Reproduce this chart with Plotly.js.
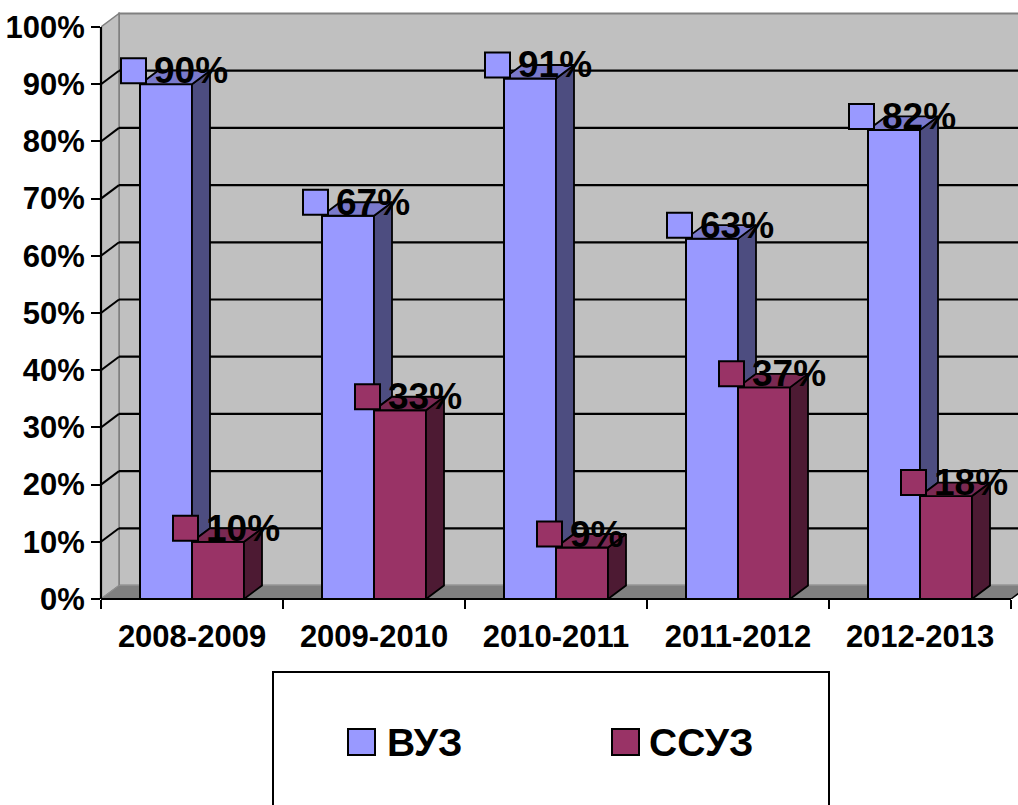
<!DOCTYPE html>
<html>
<head>
<meta charset="utf-8">
<script src="https://cdn.plot.ly/plotly-3.0.1.min.js"></script>
<style>html,body{margin:0;padding:0;background:#fff;}#chart{width:1018px;height:805px;}</style>
</head>
<body>
<div id="chart"></div>
<script>
// ---- data ----
const categories = ['2008-2009', '2009-2010', '2010-2011', '2011-2012', '2012-2013'];
const seriesNames = ['ВУЗ', 'ССУЗ'];
const vuz = [0.90, 0.67, 0.91, 0.63, 0.82];
const ssuz = [0.10, 0.33, 0.09, 0.37, 0.18];
const yTickVals = [0, 0.1, 0.2, 0.3, 0.4, 0.5, 0.6, 0.7, 0.8, 0.9, 1.0];

// ---- style / geometry ----
const FONT = 'Liberation Sans, Arial, sans-serif';
const colors = {
  vuz: {front: '#9999FF', top: '#7A7ACC', side: '#4D4D80'},
  ssuz: {front: '#993366', top: '#7A2952', side: '#4D1A33'}
};
const ML = 101, MT = 12, MB = 206, W = 1018, H = 805;
const plotW = W - ML, plotH = H - MT - MB;
const pxPerCat = 182, pxPerUnit = 572;
const xRange = [-0.5, -0.5 + plotW / pxPerCat];
const yRange = [0, plotH / pxPerUnit];
const dx = 18 / pxPerCat, dy = 13.5 / pxPerUnit;   // 3D depth offset in data units
const bw = 52 / pxPerCat;                           // bar width in data units
const nCat = categories.length;
const xs = categories.map((c, i) => i);

function px2paperX(p) { return (p - ML) / plotW; }
function px2paperY(p) { return (H - MB - p) / plotH; }

// ---- traces ----
const traces = [];
traces.push({type: 'bar', x: xs, y: vuz, width: bw, offset: -bw, name: seriesNames[0],
  marker: {color: colors.vuz.front, line: {color: '#000', width: 2}}, hoverinfo: 'skip', showlegend: false});
traces.push({type: 'bar', x: xs, y: ssuz, width: bw, offset: 0, name: seriesNames[1],
  marker: {color: colors.ssuz.front, line: {color: '#000', width: 2}}, hoverinfo: 'skip', showlegend: false});

function polyTrace(polys, color) {
  const X = [], Y = [];
  polys.forEach(p => { p.forEach(pt => { X.push(pt[0]); Y.push(pt[1]); }); X.push(p[0][0]); Y.push(p[0][1]); X.push(null); Y.push(null); });
  return {type: 'scatter', mode: 'lines', x: X, y: Y, fill: 'toself', fillcolor: color,
    line: {color: '#000', width: 1.8}, hoverinfo: 'skip', showlegend: false, connectgaps: false};
}
// VUZ side (visible part above SSUZ top), VUZ top
traces.push(polyTrace(xs.map(i => [[i, vuz[i]], [i + dx, vuz[i] + dy], [i + dx, ssuz[i] + dy], [i, ssuz[i]]]), colors.vuz.side));
traces.push(polyTrace(xs.map(i => [[i - bw, vuz[i]], [i, vuz[i]], [i + dx, vuz[i] + dy], [i - bw + dx, vuz[i] + dy]]), colors.vuz.top));
// SSUZ side, SSUZ top
traces.push(polyTrace(xs.map(i => [[i + bw, 0], [i + bw, ssuz[i]], [i + bw + dx, ssuz[i] + dy], [i + bw + dx, dy]]), colors.ssuz.side));
traces.push(polyTrace(xs.map(i => [[i, ssuz[i]], [i + bw, ssuz[i]], [i + bw + dx, ssuz[i] + dy], [i + dx, ssuz[i] + dy]]), colors.ssuz.top));

// ---- walls, floor, gridlines ----
const shapes = [];
// back wall
shapes.push({type: 'rect', xref: 'x', yref: 'y', x0: xRange[0] + dx, x1: xRange[1] + 1, y0: dy, y1: 1 + dy,
  fillcolor: '#C0C0C0', line: {color: '#808080', width: 2}, layer: 'below'});
// side wall
shapes.push({type: 'path', xref: 'x', yref: 'y', layer: 'below', fillcolor: '#C0C0C0', line: {color: '#808080', width: 1.5},
  path: `M${xRange[0]},0 L${xRange[0]},1 L${xRange[0] + dx},${1 + dy} L${xRange[0] + dx},${dy} Z`});
// floor
shapes.push({type: 'path', xref: 'x', yref: 'y', layer: 'below', fillcolor: '#808080', line: {color: '#909090', width: 1},
  path: `M${xRange[0]},0 L${nCat - 0.5},0 L${nCat - 0.5 + dx},${dy} L${xRange[0] + dx},${dy} Z`});
// floor right edge
shapes.push({type: 'line', xref: 'x', yref: 'y', layer: 'below', x0: nCat - 0.5, y0: 0, x1: nCat - 0.5 + dx, y1: dy,
  line: {color: '#000', width: 1.5}});
// gridlines on back and side wall
yTickVals.filter(v => v > 0 && v < 1).forEach(v => {
  shapes.push({type: 'line', xref: 'x', yref: 'y', layer: 'below', x0: xRange[0] + dx, x1: xRange[1] + 1, y0: v + dy, y1: v + dy,
    line: {color: '#000', width: 2.2}});
  shapes.push({type: 'line', xref: 'x', yref: 'y', layer: 'below', x0: xRange[0], x1: xRange[0] + dx, y0: v, y1: v + dy,
    line: {color: '#000', width: 2}});
});
// axis lines (paper refs)
shapes.push({type: 'line', xref: 'paper', yref: 'paper', x0: 0, x1: 0, y0: 0, y1: 1 / yRange[1], line: {color: '#000', width: 2.2}});
shapes.push({type: 'line', xref: 'paper', yref: 'paper', x0: 0, x1: (nCat - 0.5 - xRange[0]) / (xRange[1] - xRange[0]), y0: 0, y1: 0, line: {color: '#000', width: 2.2}});

// ---- data labels ----
const annotations = [];
function addLabel(xc, v, color) {
  shapes.push({type: 'rect', xref: 'x', yref: 'y', xsizemode: 'pixel', ysizemode: 'pixel',
    xanchor: xc, yanchor: v + dy, x0: -54, x1: -29, y0: -12.5, y1: 12.5,
    fillcolor: color, line: {color: '#000', width: 2}});
  annotations.push({xref: 'x', yref: 'y', x: xc, y: v + dy, xanchor: 'left', yanchor: 'middle', xshift: -23,
    text: Math.round(v * 100) + '%', showarrow: false, font: {family: FONT, size: 37, color: '#000', weight: 'bold'}});
}
xs.forEach(i => {
  addLabel(i - bw / 2 + dx / 2, vuz[i], colors.vuz.front);
  addLabel(i + bw / 2 + dx / 2, ssuz[i], colors.ssuz.front);
});

// ---- custom legend ----
shapes.push({type: 'rect', xref: 'paper', yref: 'paper', x0: px2paperX(273), x1: px2paperX(829), y0: px2paperY(830), y1: px2paperY(672),
  fillcolor: '#fff', line: {color: '#000', width: 2}});
const legendItems = [
  {name: seriesNames[0], color: colors.vuz.front, sq: 348, tx: 385},
  {name: seriesNames[1], color: colors.ssuz.front, sq: 612, tx: 647}
];
legendItems.forEach(it => {
  shapes.push({type: 'rect', xref: 'paper', yref: 'paper', x0: px2paperX(it.sq), x1: px2paperX(it.sq + 27),
    y0: px2paperY(755), y1: px2paperY(729), fillcolor: it.color, line: {color: '#000', width: 2}});
  annotations.push({xref: 'paper', yref: 'paper', x: px2paperX(it.tx), y: px2paperY(742), xanchor: 'left', yanchor: 'middle',
    text: it.name, showarrow: false, font: {family: FONT, size: 39, color: '#000', weight: 'bold'}});
});

const layout = {
  width: W, height: H,
  margin: {l: ML, r: 0, t: MT, b: MB, pad: 0},
  paper_bgcolor: '#fff', plot_bgcolor: '#fff',
  barmode: 'overlay',
  showlegend: false,
  xaxis: {range: xRange, tickmode: 'array', tickvals: xs, ticktext: categories,
    ticks: 'outside', ticklen: 8, tickcolor: 'rgba(0,0,0,0)', ticklabelstandoff: 2,
    showgrid: false, zeroline: false, showline: false, fixedrange: true,
    tickfont: {family: FONT, size: 31, color: '#000', weight: 'bold'},
    minor: {tickmode: 'array', tickvals: xs.concat([nCat]).map(i => i - 0.5), ticks: 'outside', ticklen: 9, tickwidth: 2, tickcolor: '#000', showgrid: false}},
  yaxis: {range: yRange, tickmode: 'array', tickvals: yTickVals, tickformat: '.0%',
    ticks: 'outside', ticklen: 9, tickwidth: 2, tickcolor: '#000', ticklabelstandoff: 0,
    showgrid: false, zeroline: false, showline: false, fixedrange: true,
    tickfont: {family: FONT, size: 31, color: '#000', weight: 'bold'}},
  shapes: shapes,
  annotations: annotations
};

Plotly.newPlot('chart', traces, layout, {displayModeBar: false, staticPlot: true});
</script>
</body>
</html>
